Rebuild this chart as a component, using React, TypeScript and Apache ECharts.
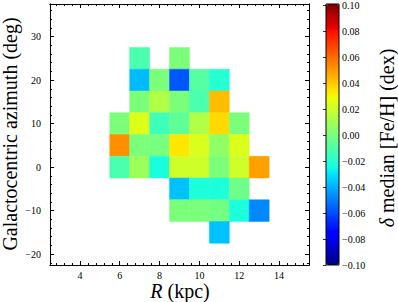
import React, { useEffect, useRef } from "react";
import * as echarts from "echarts";

// Galactocentric radius bins (kpc) and azimuth bins (deg), cell centres
const radiusBins = [6, 7, 8, 9, 10, 11, 12, 13];
const azimuthBins = [25, 20, 15, 10, 5, 0, -5, -10, -15];

// delta median [Fe/H] (dex) per azimuth row, one entry per radius bin (null = empty)
const rowAz25 = [null, -0.012, null, 0.0, null, null, null, null];
const rowAz20 = [null, -0.038, 0.0, -0.058, -0.009, -0.021, null, null];
const rowAz15 = [null, 0.0, 0.013, 0.0, -0.012, 0.042, null, null];
const rowAz10 = [0.0, 0.024, -0.015, -0.007, 0.013, 0.036, 0.0, null];
const rowAz5 = [0.052, 0.0, -0.001, 0.033, 0.023, 0.005, 0.023, null];
const rowAz0 = [-0.012, 0.008, -0.024, 0.02, 0.02, 0.0, 0.02, 0.048];
const rowAzM5 = [null, null, null, -0.037, -0.023, -0.023, -0.003, null];
const rowAzM10 = [null, null, null, 0.0, 0.0, -0.002, -0.023, -0.048];
const rowAzM15 = [null, null, null, null, null, -0.037, null, null];

const rows = [rowAz25, rowAz20, rowAz15, rowAz10, rowAz5, rowAz0, rowAzM5, rowAzM10, rowAzM15];

const xMajorTicks = [4, 6, 8, 10, 12, 14];
const yMajorTicks = [-20, -10, 0, 10, 20, 30];
const cbarTicks = [-0.1, -0.08, -0.06, -0.04, -0.02, 0, 0.02, 0.04, 0.06, 0.08, 0.1];

const X_MIN = 2.5, X_MAX = 15.5, Y_MIN = -22.5, Y_MAX = 37.5;
const V_MIN = -0.1, V_MAX = 0.1;

// matplotlib "jet" colormap
const jetR = [[0, 0], [0.35, 0], [0.66, 1], [0.89, 1], [1, 0.5]];
const jetG = [[0, 0], [0.125, 0], [0.375, 1], [0.64, 1], [0.91, 0], [1, 0]];
const jetB = [[0, 0.5], [0.11, 1], [0.34, 1], [0.65, 0], [1, 0]];
function seg(s: number[][], t: number) {
  for (let i = 1; i < s.length; i++) {
    if (t <= s[i][0]) {
      const [t0, v0] = s[i - 1];
      const [t1, v1] = s[i];
      return v0 + ((v1 - v0) * (t - t0)) / (t1 - t0);
    }
  }
  return s[s.length - 1][1];
}
function jet(t: number) {
  const h = (v: number) => Math.round(Math.max(0, Math.min(1, v)) * 255).toString(16).padStart(2, "0");
  return "#" + h(seg(jetR, t)) + h(seg(jetG, t)) + h(seg(jetB, t));
}
const jetColors: string[] = [];
for (let i = 0; i <= 128; i++) jetColors.push(jet(i / 128));

function minorTicks(start: number, step: number, lo: number, hi: number, majorStep: number) {
  const out: number[] = [];
  for (let k = -100; k <= 100; k++) {
    const v = Math.round((start + k * step) * 1000) / 1000;
    if (v <= lo || v >= hi) continue;
    const r = v / majorStep;
    if (Math.abs(r - Math.round(r)) < 1e-6) continue;
    out.push(v);
  }
  return out;
}
const xMinor = minorTicks(4, 0.4, X_MIN, X_MAX, 2);
const yMinor = minorTicks(0, 2, Y_MIN, Y_MAX, 10);

const fmtMinus = (v: number, d: number) => {
  const s = Math.abs(v) < 1e-9 ? (0).toFixed(d) : v.toFixed(d);
  return s.replace("-", "\u2212");
};

const FONT = "Liberation Serif";
const TITLE_SIZE = 20;

export default function App() {
  const ref = useRef<HTMLDivElement>(null);
  useEffect(() => {
    if (!ref.current) return;
    document.body.style.margin = "0";
    const chart = echarts.init(ref.current, undefined, { renderer: "svg" });
    const data: number[][] = [];
    rows.forEach((row, i) => {
      row.forEach((v, j) => {
        if (v !== null) data.push([radiusBins[j], azimuthBins[i], v as number]);
      });
    });

    const lineStyle = { color: "#000", width: 1 };
    const mkX = (position: string, ticks: number[], len: number, labels: boolean) => ({
      type: "value",
      gridIndex: 0,
      position,
      min: X_MIN,
      max: X_MAX,
      axisLine: { show: true, onZero: false, lineStyle },
      axisTick: { show: true, inside: true, length: len, customValues: ticks, lineStyle },
      axisLabel: {
        show: labels,
        customValues: xMajorTicks,
        fontFamily: FONT,
        fontSize: 10,
        color: "#000",
        margin: 5,
        formatter: (v: number) => fmtMinus(v, 0),
      },
      splitLine: { show: false },
    });
    const mkY = (position: string, ticks: number[], len: number, labels: boolean) => ({
      type: "value",
      gridIndex: 0,
      position,
      min: Y_MIN,
      max: Y_MAX,
      axisLine: { show: true, onZero: false, lineStyle },
      axisTick: { show: true, inside: true, length: len, customValues: ticks, lineStyle },
      axisLabel: {
        show: labels,
        customValues: yMajorTicks,
        fontFamily: FONT,
        fontSize: 10,
        color: "#000",
        margin: 9,
        formatter: (v: number) => fmtMinus(v, 0),
      },
      splitLine: { show: false },
    });

    const txt = (text: string, x: number, align: string, italic = false) => ({
      type: "text",
      x,
      y: -TITLE_SIZE / 2,
      style: {
        text,
        fontFamily: FONT,
        fontSize: TITLE_SIZE,
        fontStyle: italic ? "italic" : "normal",
        fill: "#000",
        align,
        verticalAlign: "top",
      },
    });

    chart.setOption({
      animation: false,
      backgroundColor: "#fff",
      grid: [
        { left: 50, top: 4, width: 259, height: 261 },
        { left: 326, top: 4, width: 13, height: 261 },
      ],
      xAxis: [
        mkX("bottom", xMajorTicks, 4, true),
        mkX("bottom", xMinor, 2, false),
        mkX("top", xMajorTicks, 4, false),
        mkX("top", xMinor, 2, false),
        { type: "value", gridIndex: 1, min: 0, max: 1, show: false },
      ],
      yAxis: [
        mkY("left", yMajorTicks, 4, true),
        mkY("left", yMinor, 2, false),
        mkY("right", yMajorTicks, 4, false),
        mkY("right", yMinor, 2, false),
        {
          type: "value",
          gridIndex: 1,
          position: "right",
          min: V_MIN,
          max: V_MAX,
          axisLine: { show: false },
          axisTick: { show: true, inside: true, length: 3, customValues: cbarTicks, lineStyle: { color: "#333", width: 1 } },
          axisLabel: {
            customValues: cbarTicks,
            fontFamily: FONT,
            fontSize: 10,
            color: "#000",
            margin: 3,
            formatter: (v: number) => fmtMinus(v, 2),
          },
          splitLine: { show: false },
        },
      ],
      visualMap: {
        type: "continuous",
        seriesIndex: 0,
        dimension: 2,
        min: V_MIN,
        max: V_MAX,
        calculable: false,
        orient: "vertical",
        left: 326,
        top: 4,
        itemWidth: 13,
        itemHeight: 261,
        padding: 0,
        inRange: { color: jetColors },
      },
      graphic: [
        {
          type: "rect",
          z: 100,
          shape: { x: 326, y: 4, width: 13, height: 261 },
          style: { fill: "none", stroke: "#000", lineWidth: 1 },
        },
        {
          type: "group",
          x: 10,
          y: 134,
          rotation: Math.PI / 2,
          children: [txt("Galactocentric azimuth (deg)", 0, "center")],
        },
        {
          type: "group",
          x: 180,
          y: 290.5,
          children: [txt("R", -17.5, "right", true), txt("(kpc)", -12.5, "left")],
        },
        {
          type: "group",
          x: 387,
          y: 138,
          rotation: Math.PI / 2,
          children: [txt("\u03b4", -80, "right", true), txt("median [Fe/H] (dex)", -75, "left")],
        },
      ],
      series: [
        {
          type: "custom",
          xAxisIndex: 0,
          yAxisIndex: 0,
          encode: { x: 0, y: 1 },
          data,
          renderItem: (params: any, api: any) => {
            const c = api.coord([api.value(0), api.value(1)]);
            const s = api.size([1, 5]);
            const col = api.visual("color");
            return {
              type: "rect",
              shape: { x: c[0] - s[0] / 2, y: c[1] - s[1] / 2, width: s[0], height: s[1] },
              style: { fill: col, stroke: col, lineWidth: 0.5 },
            };
          },
        },
      ],
    });
    return () => chart.dispose();
  }, []);
  return <div ref={ref} style={{ position: "absolute", left: 0, top: 0, width: 398, height: 302 }} />;
}
